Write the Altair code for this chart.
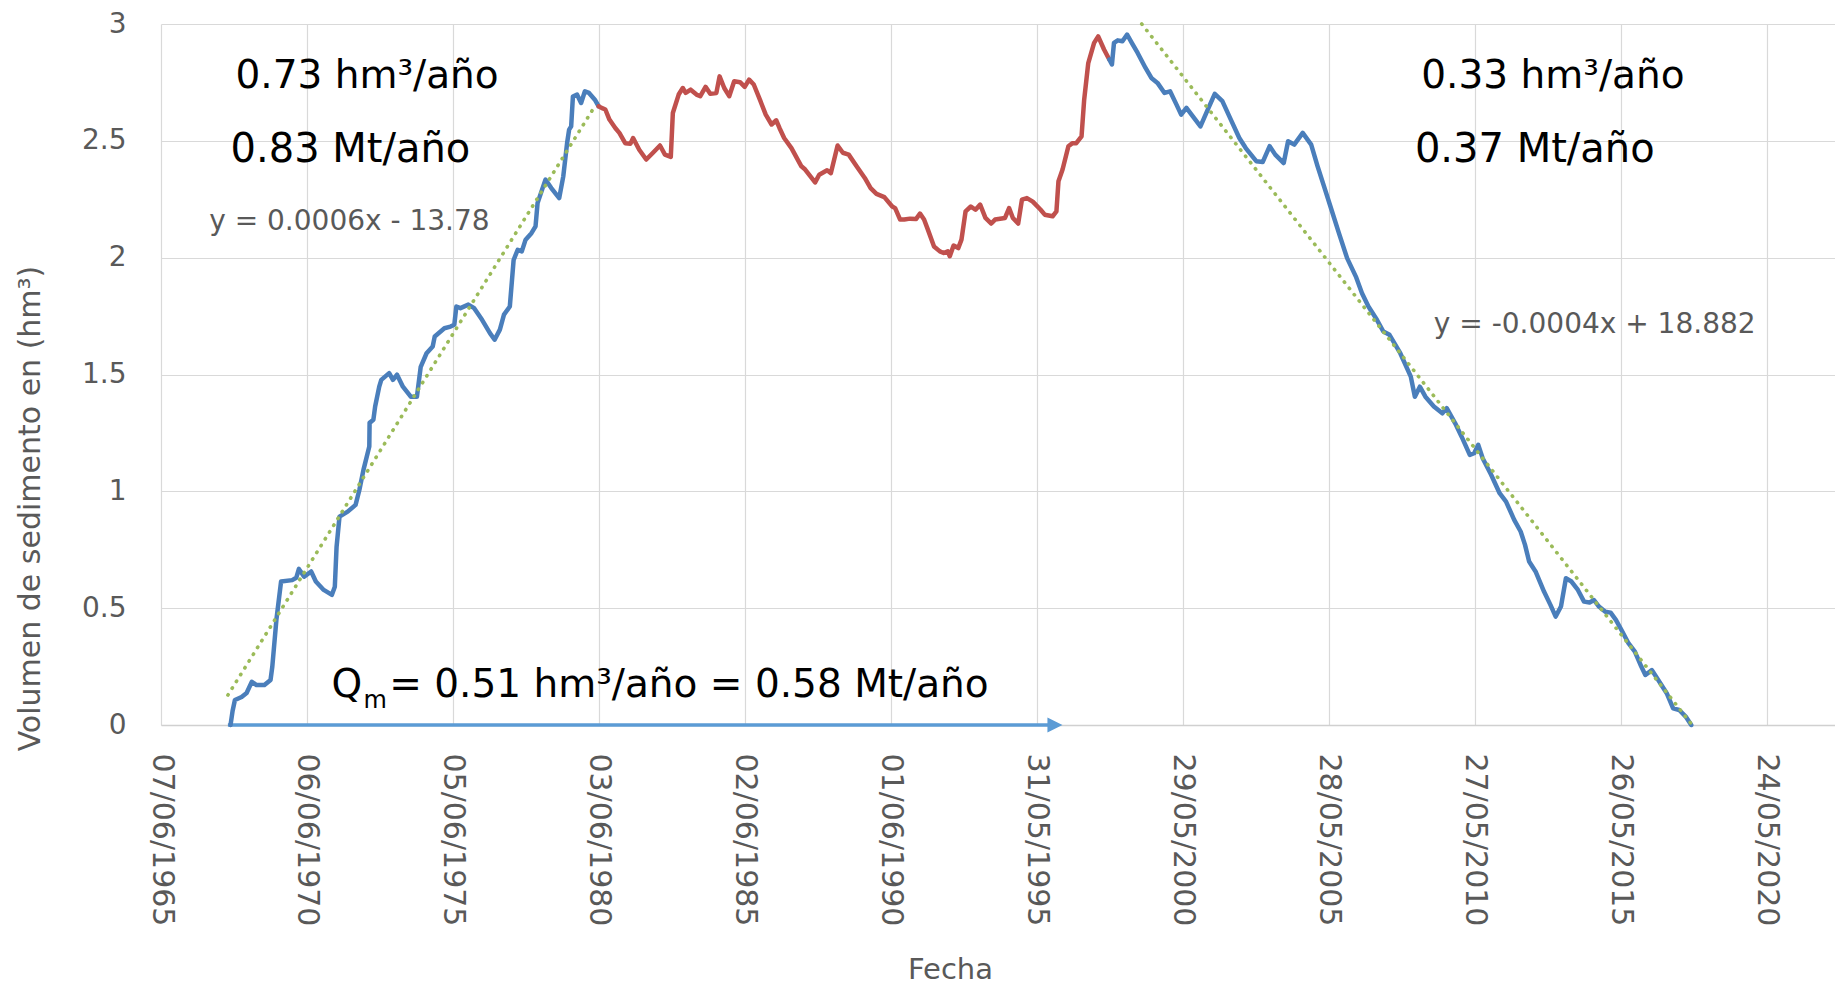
import altair as alt
import pandas as pd

# ---------------- data ----------------
# x in decimal years, y = sediment volume (hm3)
blue1_year = [1967.81, 1967.88, 1967.96, 1968.19, 1968.36, 1968.54, 1968.70, 1968.97, 1969.18, 1969.24,
              1969.38, 1969.54, 1969.92, 1970.06, 1970.15, 1970.33, 1970.57, 1970.73, 1971.00, 1971.28,
              1971.38, 1971.44, 1971.54, 1971.82, 1972.09, 1972.22, 1972.36, 1972.56, 1972.57, 1972.70,
              1972.76, 1972.90, 1972.97, 1973.24, 1973.37, 1973.51, 1973.71, 1973.98, 1974.19, 1974.32,
              1974.52, 1974.73, 1974.80, 1975.13, 1975.34, 1975.47, 1975.54, 1975.68, 1975.95, 1976.15,
              1976.42, 1976.69, 1976.85, 1977.03, 1977.17, 1977.37, 1977.50, 1977.64, 1977.78, 1977.91,
              1978.11, 1978.25, 1978.32, 1978.59, 1978.79, 1979.06, 1979.20, 1979.33, 1979.40, 1979.47,
              1979.53, 1979.67, 1979.81, 1979.94, 1980.08, 1980.28, 1980.41]
blue1_vol = [0.0, 0.06, 0.107, 0.12, 0.137, 0.185, 0.171, 0.171, 0.193, 0.25,
             0.45, 0.614, 0.62, 0.63, 0.668, 0.635, 0.657, 0.614, 0.578, 0.557,
             0.592, 0.763, 0.892, 0.913, 0.942, 1.006, 1.092, 1.192, 1.293, 1.306,
             1.363, 1.448, 1.477, 1.506, 1.477, 1.499, 1.448, 1.405, 1.405, 1.533,
             1.591, 1.62, 1.663, 1.698, 1.705, 1.713, 1.791, 1.784, 1.799, 1.784,
             1.734, 1.677, 1.649, 1.692, 1.756, 1.791, 1.99, 2.034, 2.027, 2.077,
             2.105, 2.134, 2.234, 2.334, 2.298, 2.255, 2.348, 2.49, 2.548, 2.562,
             2.69, 2.698, 2.662, 2.712, 2.705, 2.676, 2.648]

red_year = [1980.41, 1980.51, 1980.64, 1980.78, 1980.98, 1981.12, 1981.32, 1981.50, 1981.59, 1981.80,
            1982.04, 1982.27, 1982.51, 1982.68, 1982.88, 1982.95, 1983.15, 1983.29, 1983.39, 1983.56,
            1983.76, 1983.89, 1984.07, 1984.23, 1984.44, 1984.55, 1984.71, 1984.88, 1985.05, 1985.25,
            1985.41, 1985.56, 1985.72, 1985.93, 1986.13, 1986.33, 1986.49, 1986.60, 1986.76, 1987.01,
            1987.35, 1987.48, 1987.66, 1987.82, 1987.96, 1988.23, 1988.36, 1988.59, 1988.77, 1988.97,
            1989.24, 1989.52, 1989.72, 1989.92, 1990.19, 1990.46, 1990.56, 1990.73, 1990.87, 1991.07,
            1991.28, 1991.41, 1991.55, 1991.68, 1991.89, 1992.09, 1992.22, 1992.36, 1992.43, 1992.56,
            1992.72, 1992.83, 1992.97, 1993.15, 1993.31, 1993.47, 1993.65, 1993.85, 1993.98, 1994.32,
            1994.46, 1994.59, 1994.77, 1994.90, 1995.07, 1995.27, 1995.54, 1995.68, 1995.95, 1996.08,
            1996.15, 1996.29, 1996.49, 1996.63, 1996.76, 1996.94, 1997.03, 1997.17, 1997.37, 1997.51,
            1997.71, 1997.89]
red_vol = [2.648, 2.641, 2.634, 2.591, 2.555, 2.534, 2.49, 2.488, 2.512, 2.462,
           2.42, 2.449, 2.48, 2.441, 2.431, 2.619, 2.698, 2.726, 2.705, 2.719,
           2.698, 2.691, 2.731, 2.701, 2.705, 2.776, 2.726, 2.691, 2.755, 2.751,
           2.731, 2.762, 2.741, 2.676, 2.612, 2.57, 2.588, 2.555, 2.512, 2.469,
           2.391, 2.377, 2.348, 2.322, 2.355, 2.374, 2.362, 2.48, 2.449, 2.441,
           2.391, 2.341, 2.298, 2.273, 2.259, 2.219, 2.212, 2.163, 2.163, 2.167,
           2.166, 2.189, 2.163, 2.12, 2.048, 2.027, 2.02, 2.027, 2.006, 2.052,
           2.041, 2.077, 2.198, 2.219, 2.205, 2.227, 2.17, 2.146, 2.163, 2.17,
           2.212, 2.17, 2.146, 2.248, 2.255, 2.24, 2.205, 2.184, 2.177, 2.198,
           2.327, 2.377, 2.477, 2.49, 2.49, 2.519, 2.676, 2.833, 2.919, 2.947,
           2.891, 2.848]

blue2_year = [1997.89, 1997.98, 1998.05, 1998.18, 1998.34, 1998.50, 1998.66, 1998.86, 1999.13, 1999.33,
              1999.54, 1999.78, 1999.97, 2000.19, 2000.35, 2000.53, 2000.75, 2001.01, 2001.26, 2001.50,
              2001.76, 2002.05, 2002.34, 2002.56, 2002.92, 2003.14, 2003.38, 2003.57, 2003.86, 2004.01,
              2004.22, 2004.51, 2004.80, 2005.02, 2005.24, 2005.46, 2005.75, 2006.03, 2006.33, 2006.54,
              2006.76, 2007.05, 2007.27, 2007.48, 2007.85, 2008.21, 2008.35, 2008.52, 2008.71, 2009.00,
              2009.29, 2009.44, 2009.73, 2009.95, 2010.23, 2010.38, 2010.52, 2010.67, 2010.96, 2011.25,
              2011.47, 2011.75, 2011.97, 2012.12, 2012.26, 2012.48, 2012.77, 2012.99, 2013.17, 2013.35,
              2013.52, 2013.71, 2013.93, 2014.14, 2014.33, 2014.48, 2014.65, 2014.87, 2015.05, 2015.23,
              2015.45, 2015.66, 2015.88, 2016.10, 2016.24, 2016.46, 2016.68, 2016.97, 2017.19, 2017.40,
              2017.62, 2017.81]
blue2_vol = [2.848, 2.827, 2.919, 2.93, 2.926, 2.955, 2.919, 2.876, 2.812, 2.769,
             2.748, 2.705, 2.712, 2.655, 2.612, 2.641, 2.605, 2.562, 2.634, 2.701,
             2.67, 2.591, 2.512, 2.469, 2.413, 2.409, 2.477, 2.441, 2.405, 2.498,
             2.484, 2.534, 2.484, 2.391, 2.305, 2.219, 2.105, 1.998, 1.919, 1.848,
             1.791, 1.734, 1.684, 1.67, 1.591, 1.491, 1.405, 1.448, 1.405, 1.363,
             1.334, 1.356, 1.291, 1.234, 1.156, 1.163, 1.199, 1.142, 1.071, 0.992,
             0.956, 0.878, 0.828, 0.771, 0.7, 0.657, 0.571, 0.514, 0.464, 0.507,
             0.628, 0.614, 0.578, 0.528, 0.524, 0.535, 0.507, 0.485, 0.481, 0.45,
             0.4, 0.35, 0.314, 0.25, 0.214, 0.235, 0.193, 0.136, 0.071, 0.064,
             0.036, 0.0]

trend_up_year = [1967.72, 1980.28]
trend_up_vol = [0.128, 2.648]
trend_down_year = [1999.00, 2017.84]
trend_down_vol = [3.0, 0.0]

arrow_year = [1967.72, 1995.85]
arrow_vol = [0.0, 0.0]
arrowhead_year = [1996.03]
arrowhead_vol = [0.0]

tick_labels = ["07/06/1965", "06/06/1970", "05/06/1975", "03/06/1980", "02/06/1985", "01/06/1990",
               "31/05/1995", "29/05/2000", "28/05/2005", "27/05/2010", "26/05/2015", "24/05/2020"]
x_domain = ["07/06/1965", "25/09/2022"]
y_ticks = [0, 0.5, 1, 1.5, 2, 2.5, 3]

ann_text = ["0.73 hm³/año", "0.83 Mt/año", "0.33 hm³/año", "0.37 Mt/año",
            "Q", "m", "= 0.51 hm³/año = 0.58 Mt/año",
            "y = 0.0006x - 13.78", "y = -0.0004x + 18.882"]
ann_year = [1967.98, 1967.81, 2008.57, 2008.35, 1971.27, 1972.36, 1973.24, 1967.08, 2009.00]
ann_vol = [2.724, 2.411, 2.724, 2.411, 0.12, 0.073, 0.12, 2.12, 1.679]
ann_size = [39, 40, 39, 40, 39, 24, 39, 28, 28]
ann_color = ["#000000"] * 7 + ["#595959"] * 2

# ---------------- helpers ----------------
BASE = pd.Timestamp("1965-06-07", tz="UTC")


def yr_ms(yr):
    return int((BASE + pd.Timedelta(days=(yr - 1965.43) * 365.25)).timestamp() * 1000)


def dmy_ms(s):
    return int(pd.to_datetime(s, format="%d/%m/%Y").tz_localize("UTC").timestamp() * 1000)


FONT = "DejaVu Sans"
GRAY = "#595959"

series = pd.DataFrame(
    [{"t": yr_ms(a), "v": b, "seg": "b1", "col": "#4A7EBB"} for a, b in zip(blue1_year, blue1_vol)]
    + [{"t": yr_ms(a), "v": b, "seg": "r", "col": "#C0504D"} for a, b in zip(red_year, red_vol)]
    + [{"t": yr_ms(a), "v": b, "seg": "b2", "col": "#4A7EBB"} for a, b in zip(blue2_year, blue2_vol)]
)
trends = pd.DataFrame(
    [{"t": yr_ms(a), "v": b, "seg": "up"} for a, b in zip(trend_up_year, trend_up_vol)]
    + [{"t": yr_ms(a), "v": b, "seg": "down"} for a, b in zip(trend_down_year, trend_down_vol)]
)
arrow = pd.DataFrame({"t": [yr_ms(a) for a in arrow_year], "v": arrow_vol})
head = pd.DataFrame({"t": [yr_ms(a) for a in arrowhead_year], "v": arrowhead_vol})
ann = pd.DataFrame({"t": [yr_ms(a) for a in ann_year], "v": ann_vol, "txt": ann_text,
                    "sz": ann_size, "col": ann_color})

x_enc = alt.X(
    "t:T",
    title="Fecha",
    scale=alt.Scale(type="utc", domain=[dmy_ms(x_domain[0]), dmy_ms(x_domain[1])]),
    axis=alt.Axis(
        values=[dmy_ms(s) for s in tick_labels],
        labelExpr="utcFormat(datum.value, '%d/%m/%Y')",
        labelAngle=90, labelAlign="left", labelBaseline="middle", labelPadding=28,
        labelFontSize=30, labelFlush=False, labelOverlap=False,
        ticks=False, grid=True, domain=True, domainColor="#D0D0D0", domainWidth=1.6,
        titleX=789, titleY=244, titleAlign="center", titleBaseline="middle",
        titleFontSize=29,
    ),
)
y_enc = alt.Y(
    "v:Q",
    title="Volumen de sedimento en (hm³)",
    scale=alt.Scale(domain=[0, 3], nice=False, zero=True),
    axis=alt.Axis(
        values=y_ticks, format="~g", labelFontSize=28, labelPadding=35, labelFlush=False,
        ticks=False, grid=True, domain=False,
        titleX=-131, titleY=484, titleAngle=270, titleAlign="center", titleBaseline="middle",
        titleFontSize=30,
    ),
)

lines = alt.Chart(series).mark_line(strokeWidth=4.5, strokeJoin="round", strokeCap="round").encode(
    x=x_enc, y=y_enc, color=alt.Color("col:N", scale=None), detail="seg:N"
)
trend_layer = alt.Chart(trends).mark_line(
    strokeWidth=3.6, strokeDash=[0.5, 7.5], strokeCap="round", color="#9BBB59"
).encode(x=x_enc, y=y_enc, detail="seg:N")
arrow_line = alt.Chart(arrow).mark_line(strokeWidth=3.5, color="#5B9BD5").encode(x=x_enc, y=y_enc)
arrow_head = alt.Chart(head).mark_point(
    shape="M-1,-1L1,0L-1,1Z", filled=True, size=225, color="#5B9BD5", opacity=1
).encode(x=x_enc, y=y_enc)
texts = alt.Chart(ann).mark_text(align="left", baseline="alphabetic", font=FONT).encode(
    x=x_enc, y=y_enc, text="txt:N",
    size=alt.Size("sz:Q", scale=None), color=alt.Color("col:N", scale=None),
)

chart = (
    alt.layer(arrow_line, lines, trend_layer, arrow_head, texts)
    .properties(
        width=1674, height=701,
        padding={"left": 153, "top": 16, "right": 0, "bottom": 262},
        autosize=alt.AutoSizeParams(type="none"),
    )
    .configure_view(stroke=None)
    .configure_axis(
        labelFont=FONT, titleFont=FONT, labelColor=GRAY, titleColor=GRAY,
        titleFontWeight="normal", gridColor="#D9D9D9", gridWidth=1.2,
    )
)

chart.save("out.html", embed_options={"renderer": "svg", "actions": False})
